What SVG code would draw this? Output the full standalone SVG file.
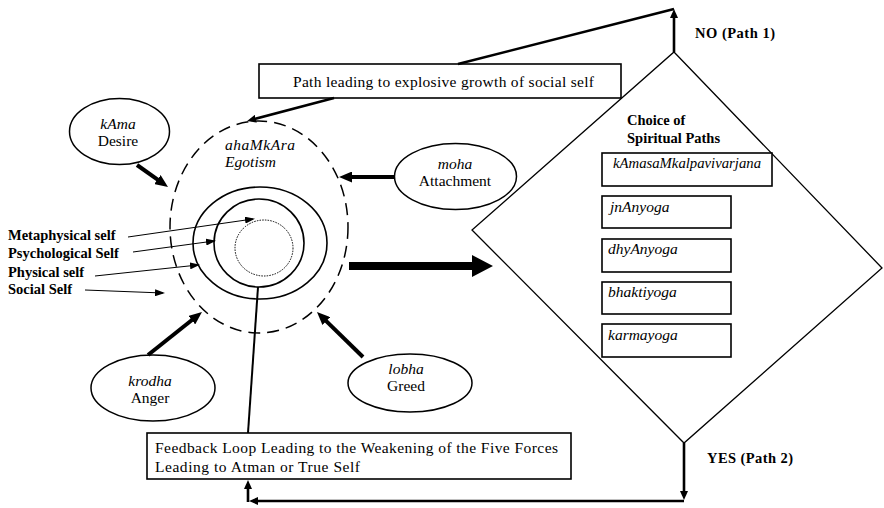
<svg xmlns="http://www.w3.org/2000/svg" width="884" height="508" viewBox="0 0 884 508">
  <style>
    text { font-family: "Liberation Serif", "Times New Roman", serif; fill: #000; }
    .it { font-style: italic; }
    .reg { font-size: 15.5px; }
    .lbl { font-size: 14.5px; font-weight: bold; }
    .box { fill: #fff; stroke: #000; stroke-width: 1.6; }
    .oval { fill: #fff; stroke: #000; stroke-width: 1.5; }
    .thick { stroke: #000; stroke-width: 4; fill: none; marker-end: url(#ah); }
    .mid { stroke: #000; stroke-width: 2.6; fill: none; }
    .thin { stroke: #000; stroke-width: 1; fill: none; marker-end: url(#as); }
  </style>
  <defs>
    <marker id="ah" markerUnits="userSpaceOnUse" markerWidth="13" markerHeight="11" refX="5" refY="5.5" orient="auto">
      <path d="M0,0 L13,5.5 L0,11 z" fill="#000"/>
    </marker>
    <marker id="am" markerUnits="userSpaceOnUse" markerWidth="9" markerHeight="8" refX="5" refY="4" orient="auto">
      <path d="M0,0 L9,4 L0,8 z" fill="#000"/>
    </marker>
    <marker id="as" markerUnits="userSpaceOnUse" markerWidth="10" markerHeight="7" refX="8" refY="3.5" orient="auto">
      <path d="M0,0 L10,3.5 L0,7 z" fill="#000"/>
    </marker>
  </defs>

  <rect width="884" height="508" fill="#fff"/>

  <!-- self: ego boundary and nested selves -->
  <g id="ahamkara">
    <ellipse cx="259" cy="227" rx="89" ry="106" fill="none" stroke="#000" stroke-width="1.5" stroke-dasharray="12 7"/>
    <text class="reg it" x="225" y="150" textLength="70" lengthAdjust="spacing">ahaMkAra</text>
    <text class="reg it" x="225" y="167" textLength="51" lengthAdjust="spacing">Egotism</text>
  </g>
  <g id="physical-self">
    <ellipse cx="260" cy="243" rx="67" ry="56" fill="none" stroke="#000" stroke-width="1.6"/>
  </g>
  <g id="psychological-self">
    <ellipse cx="259" cy="243" rx="45" ry="44" fill="none" stroke="#000" stroke-width="1.6"/>
  </g>
  <g id="metaphysical-self">
    <ellipse cx="264" cy="248" rx="29" ry="28" fill="none" stroke="#000" stroke-width="1" stroke-dasharray="1.5 1.2"/>
  </g>

  <!-- layer labels -->
  <g id="labels">
    <text class="lbl" x="8" y="240">Metaphysical self</text>
    <text class="lbl" x="8" y="258">Psychological Self</text>
    <text class="lbl" x="8" y="277">Physical self</text>
    <text class="lbl" x="8" y="294">Social Self</text>
  </g>

  <!-- the five forces -->
  <g id="kama">
    <ellipse class="oval" cx="119.5" cy="131.5" rx="50" ry="33"/>
    <text class="reg it" x="118" y="129" text-anchor="middle">kAma</text>
    <text class="reg" x="118" y="146" text-anchor="middle">Desire</text>
  </g>
  <g id="moha">
    <ellipse class="oval" cx="455.5" cy="176.5" rx="61" ry="33"/>
    <text class="reg it" x="455" y="169" text-anchor="middle">moha</text>
    <text class="reg" x="455" y="186" text-anchor="middle">Attachment</text>
  </g>
  <g id="krodha">
    <ellipse class="oval" cx="153" cy="388" rx="62" ry="33"/>
    <text class="reg it" x="150" y="386" text-anchor="middle">krodha</text>
    <text class="reg" x="150" y="403" text-anchor="middle">Anger</text>
  </g>
  <g id="lobha">
    <ellipse class="oval" cx="410" cy="383" rx="62" ry="29"/>
    <text class="reg it" x="406" y="374" text-anchor="middle">lobha</text>
    <text class="reg" x="406" y="391" text-anchor="middle">Greed</text>
  </g>

  <!-- outcome boxes -->
  <g id="path-growth">
    <rect class="box" x="259" y="64" width="362" height="34"/>
    <text class="reg" x="293" y="87" textLength="301" lengthAdjust="spacing">Path leading to explosive growth of social self</text>
  </g>
  <g id="feedback-loop">
    <rect class="box" x="147" y="433" width="424" height="46"/>
    <text class="reg" x="155" y="453" textLength="403" lengthAdjust="spacing">Feedback Loop Leading to the Weakening of the Five Forces</text>
    <text class="reg" x="155" y="472" textLength="205" lengthAdjust="spacing">Leading to Atman or True Self</text>
  </g>

  <!-- decision: choice of spiritual paths -->
  <g id="choice">
    <polygon points="674,52 882,268 684,443 472,230" fill="none" stroke="#000" stroke-width="1.3"/>
    <text class="lbl" x="627" y="125">Choice of</text>
    <text class="lbl" x="627" y="143">Spiritual Paths</text>
  </g>
  <g id="kamasamkalpavivarjana">
    <rect class="box" x="602" y="153" width="170" height="33"/>
    <text class="reg it" x="613" y="168" textLength="148" lengthAdjust="spacingAndGlyphs">kAmasaMkalpavivarjana</text>
  </g>
  <g id="jnanyoga">
    <rect class="box" x="602" y="196" width="129" height="32"/>
    <text class="reg it" x="610" y="212">jnAnyoga</text>
  </g>
  <g id="dhyanyoga">
    <rect class="box" x="602" y="239" width="129" height="33"/>
    <text class="reg it" x="608" y="254">dhyAnyoga</text>
  </g>
  <g id="bhaktiyoga">
    <rect class="box" x="602" y="282" width="129" height="32"/>
    <text class="reg it" x="608" y="297">bhaktiyoga</text>
  </g>
  <g id="karmayoga">
    <rect class="box" x="602" y="324" width="129" height="33"/>
    <text class="reg it" x="608" y="340">karmayoga</text>
  </g>

  <g id="branch-labels">
    <text class="lbl" x="695" y="38" textLength="80" lengthAdjust="spacing">NO (Path 1)</text>
    <text class="lbl" x="707" y="463" textLength="86" lengthAdjust="spacing">YES (Path 2)</text>
  </g>

  <!-- connectors -->
  <g id="connectors">
    <!-- forces pressing on the ego -->
    <line class="thick" x1="137" y1="165" x2="161.5" y2="182.4"/>
    <line class="thick" x1="394" y1="177" x2="347" y2="177"/>
    <line class="thick" x1="148" y1="355" x2="195.7" y2="317"/>
    <line class="thick" x1="363" y1="357" x2="322.7" y2="317.6"/>

    <!-- layer label pointers -->
    <line class="thin" x1="128" y1="237" x2="253" y2="219"/>
    <line class="thin" x1="133" y1="252" x2="214" y2="241"/>
    <line class="thin" x1="95" y1="276" x2="198" y2="265"/>
    <line class="thin" x1="85" y1="290" x2="163" y2="293"/>

    <!-- self to the choice -->
    <polygon points="349,262 472,262 472,255 493,266 472,277 472,270 349,270" fill="#000"/>

    <!-- NO branch back to the ego -->
    <line class="mid" x1="674" y1="52" x2="674" y2="13" marker-end="url(#am)"/>
    <line class="mid" x1="674" y1="9" x2="458" y2="64"/>
    <line class="mid" x1="334" y1="98" x2="251" y2="120" marker-end="url(#am)"/>

    <!-- YES branch into the feedback loop -->
    <line class="mid" x1="684" y1="443" x2="684" y2="496" marker-end="url(#am)"/>
    <line class="mid" x1="684" y1="501" x2="253" y2="501" marker-end="url(#am)"/>
    <line class="mid" x1="248" y1="502" x2="248" y2="484" marker-end="url(#am)"/>
    <line x1="258" y1="287" x2="248" y2="433" stroke="#000" stroke-width="2"/>
  </g>
</svg>
